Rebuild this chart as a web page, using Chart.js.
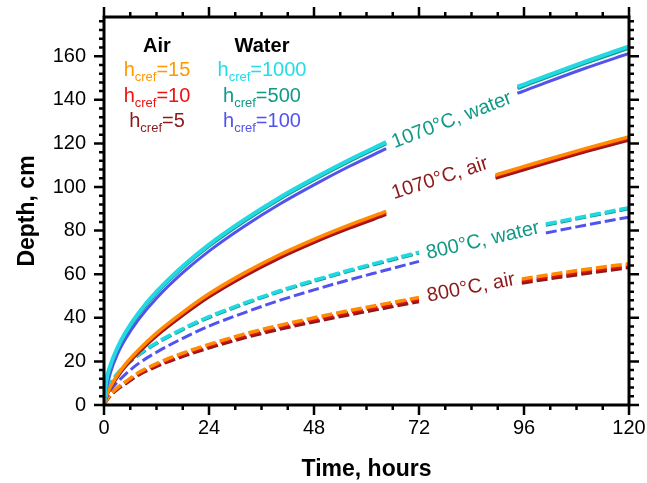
<!DOCTYPE html>
<html>
<head>
<meta charset="utf-8">
<script src="https://cdn.jsdelivr.net/npm/chart.js@4.4.1/dist/chart.umd.min.js"></script>
<style>
  html, body { margin: 0; padding: 0; background: #fff; }
  #wrap { width: 647px; height: 483px; }
</style>
</head>
<body>
<div id="wrap"><canvas id="depthChart" width="647" height="483"></canvas></div>
<script>
// time, hours (null values leave the gap where the curve label sits)
const hours = [0, 0.5, 1.5, 3, 5, 8, 12, 18, 24, 32, 40, 48, 56, 64.5, 72, 89.5, 94.5, 95.5, 101, 110, 120];

// 1070 C, water cooled
const w1070_1000 = [0, 10.6, 18.4, 26, 33.6, 42.5, 52, 63.7, 73.6, 84.9, 95, 104, 112.4, 120.6, null, null, 146, 146.7, 150.9, 157.5, 164.5];
const w1070_500  = [0, 9.8, 17.6, 25.2, 32.8, 41.7, 51.2, 62.9, 72.8, 84.1, 94.2, 103.2, 111.6, 119.8, null, null, 145.2, 145.9, 150.1, 156.7, 163.7];
const w1070_100  = [0, 7, 15, 23, 30.6, 39.5, 49, 60.7, 70.6, 81.9, 92, 101, 109.4, 117.6, null, null, 143, 143.7, 147.9, 154.5, 161.3];

// 1070 C, air cooled
const a1070_15 = [0, 4, 8.5, 13.5, 19, 25.5, 33, 42.5, 51, 60.5, 68.8, 76, 82.5, 88.8, null, 105.5, 108.5, 109.1, 112.4, 117.6, 123];
const a1070_10 = [0, 3.8, 8.2, 13.1, 18.5, 24.9, 32.3, 41.8, 50.3, 59.8, 68.1, 75.3, 81.8, 88.1, null, 104.8, 107.8, 108.4, 111.7, 116.9, 122.3];
const a1070_5  = [0, 3.5, 7.8, 12.6, 17.9, 24.2, 31.6, 41, 49.5, 59, 67.3, 74.5, 81, 87.3, null, 104, 107, 107.6, 110.9, 116.1, 121.5];

// 800 C, water cooled
const w800_1000 = [0, 5.8, 10.1, 14.3, 18.5, 23.4, 28.6, 35, 40.5, 46.7, 52.3, 57.2, 61.8, 66.3, 70.1, null, null, null, 83, 86.6, 90.5];
const w800_500  = [0, 5.4, 9.7, 13.8, 18, 22.9, 28.1, 34.5, 40, 46.2, 51.8, 56.7, 61.3, 65.8, 69.6, null, null, null, 82.5, 86.1, 90];
const w800_100  = [0, 3, 6.8, 10.3, 14.3, 19.2, 24.2, 30.6, 36.2, 42.3, 47.9, 52.8, 57.4, 61.9, 65.9, null, null, null, 78.9, 82.5, 86.2];

// 800 C, air cooled
const a800_15 = [0, 2, 4.8, 7.8, 10.8, 15, 19, 23.8, 27.8, 32.5, 36.5, 40, 43.3, 46.5, 49.3, null, null, 57.8, 59.5, 62.2, 64.8];
const a800_10 = [0, 1.9, 4.6, 7.4, 10.3, 14.4, 18.3, 23, 27, 31.6, 35.6, 39.1, 42.4, 45.6, 48.4, null, null, 56.9, 58.6, 61.3, 63.9];
const a800_5  = [0, 1.7, 4.3, 7, 9.8, 13.8, 17.6, 22.2, 26.1, 30.7, 34.6, 38.1, 41.3, 44.5, 47.4, null, null, 55.9, 57.6, 60.2, 63];

const FONT = "'Liberation Sans', Arial, Helvetica, sans-serif";

const colors = {
  cyan: '#22d8e2', teal: '#119988', blue: '#5252ee',
  orange: '#ff8c00', red: '#e01010', dkred: '#8b1a1a'
};

function pts(vals) {
  return hours.map((t, i) => ({ x: t, y: vals[i] }));
}

function line(vals, color, width, dashed, order) {
  return {
    data: pts(vals),
    borderColor: color,
    borderWidth: width,
    borderDash: dashed ? [11, 4] : [],
    pointRadius: 0,
    fill: false,
    spanGaps: false,
    cubicInterpolationMode: 'monotone',
    order: order
  };
}

// labels written along the curves, placed in data units
const curveLabels = [
  { text: '1070\u00B0C, water', t: 79.5, v: 130.6, angle: -21, color: colors.teal },
  { text: '1070\u00B0C, air',   t: 76.8, v: 103.9, angle: -18, color: colors.dkred },
  { text: '800\u00B0C, water',  t: 86.6, v: 75.4,  angle: -13, color: colors.teal },
  { text: '800\u00B0C, air',    t: 83.9, v: 53.8,  angle: -11, color: colors.dkred }
];

const legendCols = [
  { head: 'Air', x: 157, items: [['15', '#ff9900'], ['10', '#ee1111'], ['5', '#8b1a1a']] },
  { head: 'Water', x: 262, items: [['1000', '#22dde8'], ['500', '#119988'], ['100', '#5252ee']] }
];

function drawHcref(ctx, cx, y, val, color) {
  const big = '20px ' + FONT, small = '13px ' + FONT;
  ctx.font = big;
  const wh = ctx.measureText('h').width;
  const wr = ctx.measureText('=' + val).width;
  ctx.font = small;
  const ws = ctx.measureText('cref').width;
  let x = cx - (wh + ws + wr) / 2;
  ctx.fillStyle = color;
  ctx.textAlign = 'left';
  ctx.textBaseline = 'alphabetic';
  ctx.font = big;
  ctx.fillText('h', x, y);
  x += wh;
  ctx.font = small;
  ctx.fillText('cref', x, y + 5);
  x += ws;
  ctx.font = big;
  ctx.fillText('=' + val, x, y);
}

const decor = {
  id: 'decor',
  afterDatasetsDraw(chart) {
    const ctx = chart.ctx, xs = chart.scales.x, ys = chart.scales.y;
    ctx.save();
    ctx.font = '20px ' + FONT;
    ctx.textAlign = 'center';
    ctx.textBaseline = 'middle';
    curveLabels.forEach(l => {
      ctx.save();
      ctx.translate(xs.getPixelForValue(l.t), ys.getPixelForValue(l.v));
      ctx.rotate(l.angle * Math.PI / 180);
      ctx.fillStyle = l.color;
      ctx.fillText(l.text, 0, 0);
      ctx.restore();
    });
    ctx.restore();
  },
  afterDraw(chart) {
    const ctx = chart.ctx, a = chart.chartArea;
    const xs = chart.scales.x, ys = chart.scales.y;
    ctx.save();
    ctx.strokeStyle = '#000';
    ctx.lineWidth = 3;
    ctx.strokeRect(a.left, a.top, a.right - a.left, a.bottom - a.top);

    ctx.lineWidth = 2.5;
    ctx.beginPath();
    for (let t = 0; t <= 120; t += 6) {
      const px = xs.getPixelForValue(t);
      const len = t % 24 === 0 ? 10 : 5;
      ctx.moveTo(px, a.bottom); ctx.lineTo(px, a.bottom + len);
      ctx.moveTo(px, a.top); ctx.lineTo(px, a.top - len);
    }
    for (let v = 0; v <= 176; v += 4) {
      const py = ys.getPixelForValue(v);
      const len = v % 20 === 0 ? 10 : 5;
      ctx.moveTo(a.left, py); ctx.lineTo(a.left - len, py);
      ctx.moveTo(a.right, py); ctx.lineTo(a.right + len, py);
    }
    ctx.stroke();

    // legend block
    legendCols.forEach(col => {
      ctx.font = 'bold 20px ' + FONT;
      ctx.fillStyle = '#000';
      ctx.textAlign = 'center';
      ctx.textBaseline = 'alphabetic';
      ctx.fillText(col.head, col.x, 52);
      col.items.forEach((it, i) => drawHcref(ctx, col.x, 76 + i * 25.5, it[0], it[1]));
    });
    ctx.restore();
  }
};

new Chart(document.getElementById('depthChart').getContext('2d'), {
  type: 'line',
  data: {
    datasets: [
      line(w1070_1000, colors.cyan, 4, false, 1),
      line(w1070_500, colors.teal, 3, false, 2),
      line(w1070_100, colors.blue, 3, false, 3),
      line(a1070_15, colors.orange, 3.5, false, 4),
      line(a1070_10, colors.red, 3, false, 5),
      line(a1070_5, colors.dkred, 3, false, 6),
      line(w800_1000, colors.cyan, 3.5, true, 7),
      line(w800_500, colors.teal, 3, true, 8),
      line(w800_100, colors.blue, 3, true, 9),
      line(a800_15, colors.orange, 3.5, true, 10),
      line(a800_10, colors.red, 3, true, 11),
      line(a800_5, colors.dkred, 3, true, 12)
    ]
  },
  options: {
    responsive: false,
    animation: false,
    layout: { padding: { top: 17, right: 18, left: 0, bottom: 0 } },
    plugins: {
      legend: { display: false },
      tooltip: { enabled: false }
    },
    scales: {
      x: {
        type: 'linear',
        min: 0,
        max: 120,
        grid: { display: false, drawTicks: false },
        border: { display: false },
        ticks: { stepSize: 24, color: '#000', padding: 11, font: { family: FONT, size: 20 } },
        title: {
          display: true,
          text: 'Time, hours',
          color: '#000',
          padding: { top: 3, bottom: 0 },
          font: { family: FONT, size: 23, weight: 'bold' }
        },
        afterFit(scale) {
          scale.height = 78;
          scale.paddingLeft = 0;
          scale.paddingRight = 0;
        }
      },
      y: {
        min: 0,
        max: 178,
        grid: { display: false, drawTicks: false },
        border: { display: false },
        ticks: {
          stepSize: 20,
          color: '#000',
          padding: 18,
          font: { family: FONT, size: 20 },
          callback: function(value) {
            return value % 20 === 0 ? value : '';
          }
        },
        title: {
          display: true,
          text: 'Depth, cm',
          color: '#000',
          padding: { top: 14, bottom: 0 },
          font: { family: FONT, size: 23, weight: 'bold' }
        },
        afterFit(scale) {
          scale.width = 104;
          scale.paddingTop = 0;
          scale.paddingBottom = 0;
        }
      }
    }
  },
  plugins: [decor]
});
</script>
</body>
</html>
